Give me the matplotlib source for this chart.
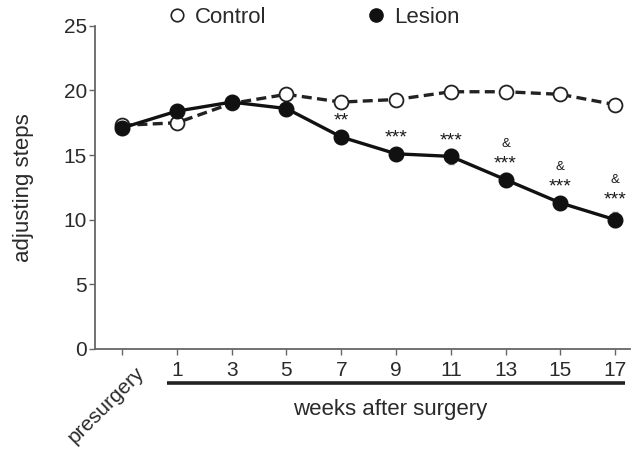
import matplotlib
matplotlib.use("Agg")
import matplotlib.pyplot as plt
import matplotlib.transforms as mtransforms
from matplotlib.lines import Line2D
import numpy as np

plt.rcParams['font.family'] = ['Liberation Sans', 'DejaVu Sans']

tick_labels = ["presurgery", "1", "3", "5", "7", "9", "11", "13", "15", "17"]
control = [17.3, 17.5, 19.0, 19.7, 19.1, 19.3, 19.9, 19.9, 19.7, 18.9]
control_err = [0.3, 0.3, 0.3, 0.3, 0.3, 0.3, 0.3, 0.3, 0.3, 0.3]
lesion = [17.1, 18.4, 19.1, 18.6, 16.4, 15.1, 14.9, 13.1, 11.3, 10.0]
lesion_err = [0.4, 0.3, 0.3, 0.3, 0.5, 0.4, 0.6, 0.5, 0.4, 0.6]
stars = ["", "", "", "", "**", "***", "***", "***", "***", "***"]
amps = ["", "", "", "", "", "", "", "&", "&", "&"]

x = np.arange(len(tick_labels))
gray = "#666666"
txt = "#2a2a2a"

fig = plt.figure(figsize=(6.35, 4.53), dpi=100)
ax = fig.add_axes([0.150, 0.2296, 0.842, 0.7134])

ax.errorbar(x, control, yerr=control_err, color="#222222", lw=2.4, ls=(0, (3, 1.6)),
            marker="o", ms=10, mfc="white", mec="#222222", mew=1.3,
            ecolor="#888888", elinewidth=1, capsize=2, zorder=3, label="Control")
ax.errorbar(x, lesion, yerr=lesion_err, color="#111111", lw=2.4, ls="-",
            marker="o", ms=10.5, mfc="#111111", mec="#111111",
            ecolor="#888888", elinewidth=1, capsize=2, zorder=4, label="Lesion")

for xi, yi, e, s, a in zip(x, lesion, lesion_err, stars, amps):
    extra = 3 if xi == 9 else 0
    if s:
        ax.annotate(s, xy=(xi, yi), xytext=(0, 8 + extra), textcoords="offset points",
                    ha="center", va="baseline", fontsize=14, color="#1a1a1a", zorder=6)
    if a:
        ax.annotate(a, xy=(xi, yi), xytext=(0, 23.5 + extra), textcoords="offset points",
                    ha="center", va="baseline", fontsize=9.5, color="#1a1a1a", zorder=6)

ax.set_xlim(-0.49, 9.27)
ax.set_ylim(0, 25)
ax.set_yticks([0, 5, 10, 15, 20, 25])
ax.set_xticks(x)
ax.set_xticklabels(tick_labels)

ax.spines["top"].set_visible(False)
ax.spines["right"].set_visible(False)
for sp in ("left", "bottom"):
    ax.spines[sp].set_color(gray)
    ax.spines[sp].set_linewidth(1.3)
ax.tick_params(axis="both", direction="out", length=4, width=1, color=gray,
               labelsize=15, labelcolor=txt)
ax.tick_params(axis="x", pad=5)
ax.tick_params(axis="y", pad=2)

pre = ax.get_xticklabels()[0]
pre.set_rotation(45)
pre.set_ha("right")
pre.set_va("center")
pre.set_rotation_mode("anchor")
pre.set_transform(pre.get_transform() + mtransforms.ScaledTranslation(14 / 72, -6 / 72, fig.dpi_scale_trans))

ax.set_ylabel("adjusting steps", fontsize=16, color=txt, labelpad=21)

# bracket under weeks
ax.plot([0.82, 9.18], [-0.105, -0.105], transform=ax.get_xaxis_transform(),
        color="#222222", lw=2.6, clip_on=False, solid_capstyle="butt")
ax.text(4.9, -0.187, "weeks after surgery", transform=ax.get_xaxis_transform(),
        ha="center", va="center", fontsize=16, color=txt)

hc = Line2D([], [], ls="none", marker="o", ms=9, mfc="white", mec="#222222", mew=1.2)
hl = Line2D([], [], ls="none", marker="o", ms=9.5, mfc="#111111", mec="#111111")
fig.legend([hc, hl], ["Control", "Lesion"], loc="center", bbox_to_anchor=(0.495, 0.962),
           ncol=2, frameon=False, fontsize=16, handlelength=0.7, handletextpad=0.45,
           columnspacing=4.6, labelcolor=txt)

fig.savefig("out.png", dpi=100)
